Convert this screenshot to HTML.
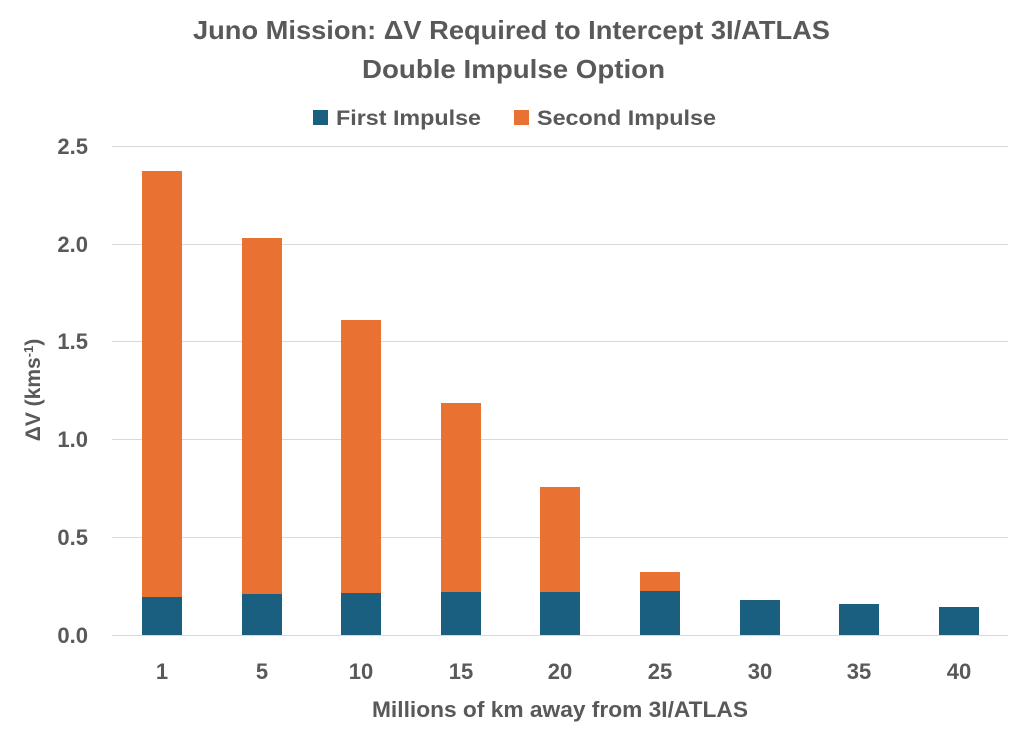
<!DOCTYPE html>
<html><head><meta charset="utf-8"><style>
body{margin:0;background:#fff;}
svg{display:block;font-family:"Liberation Sans",Arial,sans-serif;font-weight:bold;}
</style></head><body>
<svg width="1024" height="740" xmlns="http://www.w3.org/2000/svg">
<rect width="1024" height="740" fill="#fff"/>
<text x="193" y="39" font-size="26" fill="#595959" textLength="637" lengthAdjust="spacingAndGlyphs">Juno Mission: ΔV Required to Intercept 3I/ATLAS</text>
<text x="362" y="78" font-size="26" fill="#595959" textLength="303" lengthAdjust="spacingAndGlyphs">Double Impulse Option</text>
<rect x="313" y="110" width="15" height="15" fill="#1a5e80"/>
<text x="336" y="125" font-size="21" fill="#595959" textLength="145" lengthAdjust="spacingAndGlyphs">First Impulse</text>
<rect x="514" y="110" width="15" height="15" fill="#e97132"/>
<text x="537" y="125" font-size="21" fill="#595959" textLength="179" lengthAdjust="spacingAndGlyphs">Second Impulse</text>
<g stroke="#d9d9d9" stroke-width="1">
<line x1="112" x2="1008" y1="146.5" y2="146.5"/>
<line x1="112" x2="1008" y1="244.5" y2="244.5"/>
<line x1="112" x2="1008" y1="341.5" y2="341.5"/>
<line x1="112" x2="1008" y1="439.5" y2="439.5"/>
<line x1="112" x2="1008" y1="537.5" y2="537.5"/>
<line x1="112" x2="1008" y1="635.5" y2="635.5"/>
</g>
<g font-size="22" fill="#595959" text-anchor="end">
<text x="88" y="154">2.5</text><text x="88" y="252">2.0</text><text x="88" y="349">1.5</text>
<text x="88" y="447">1.0</text><text x="88" y="545">0.5</text><text x="88" y="643">0.0</text>
</g>
<text transform="translate(40,390) rotate(-90)" text-anchor="middle" font-size="21" fill="#595959">ΔV (kms<tspan font-size="13" dy="-7">-1</tspan><tspan dy="7">)</tspan></text>
<g fill="#e97132">
<rect x="142" y="171" width="40" height="426"/>
<rect x="242" y="238" width="40" height="356"/>
<rect x="341" y="320" width="40" height="273"/>
<rect x="441" y="403" width="40" height="189"/>
<rect x="540" y="487" width="40" height="105"/>
<rect x="640" y="572" width="40" height="19"/>
</g>
<g fill="#1a5e80">
<rect x="142" y="597" width="40" height="38"/>
<rect x="242" y="594" width="40" height="41"/>
<rect x="341" y="593" width="40" height="42"/>
<rect x="441" y="592" width="40" height="43"/>
<rect x="540" y="592" width="40" height="43"/>
<rect x="640" y="591" width="40" height="44"/>
<rect x="740" y="600" width="40" height="35"/>
<rect x="839" y="604" width="40" height="31"/>
<rect x="939" y="607" width="40" height="28"/>
</g>
<g font-size="22" fill="#595959" text-anchor="middle">
<text x="162" y="679">1</text><text x="262" y="679">5</text><text x="361" y="679">10</text>
<text x="461" y="679">15</text><text x="560" y="679">20</text><text x="660" y="679">25</text>
<text x="760" y="679">30</text><text x="859" y="679">35</text><text x="959" y="679">40</text>
</g>
<text x="372" y="717" font-size="22" fill="#595959" textLength="376" lengthAdjust="spacingAndGlyphs">Millions of km away from 3I/ATLAS</text>
</svg>
</body></html>
